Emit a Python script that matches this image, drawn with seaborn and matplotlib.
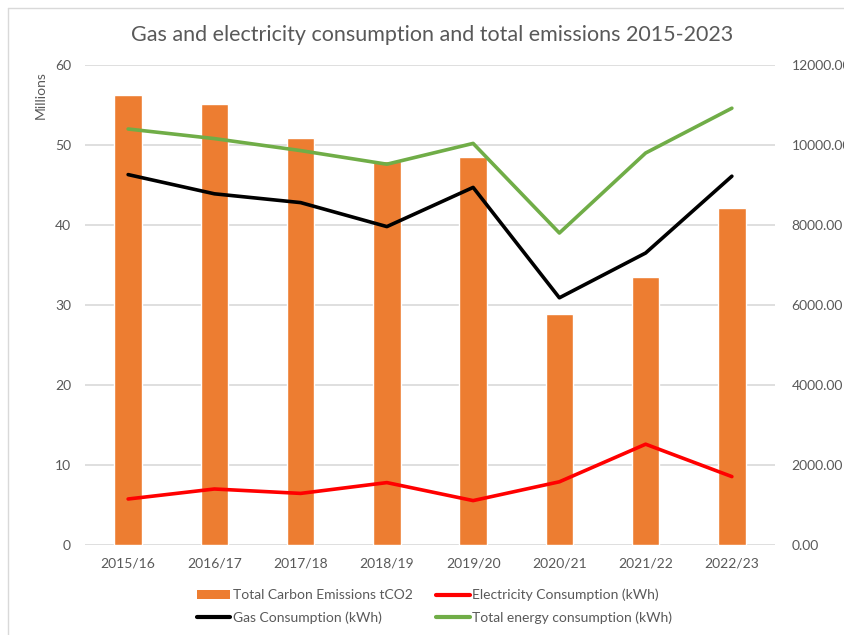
import matplotlib
matplotlib.use("Agg")
import matplotlib.pyplot as plt
from matplotlib.lines import Line2D
from matplotlib.patches import Patch
from matplotlib.ticker import MultipleLocator, StrMethodFormatter
import pandas as pd
import seaborn as sns

# Financial years
years = ["2015/16", "2016/17", "2017/18", "2018/19", "2019/20", "2020/21", "2021/22", "2022/23"]

# Total carbon emissions (tCO2) - right axis
carbon_tco2 = [11260, 11020, 10180, 9600, 9700, 5780, 6700, 8420]

# Consumption in millions of kWh - left axis
electricity_kwh_m = [5.75, 7.0, 6.45, 7.8, 5.55, 7.9, 12.6, 8.55]
gas_kwh_m = [46.3, 43.9, 42.8, 39.8, 44.7, 30.9, 36.5, 46.1]
total_kwh_m = [52.0, 50.8, 49.3, 47.6, 50.2, 39.0, 49.0, 54.6]

ORANGE = "#ED7D31"
RED = "#FF0000"
BLACK = "#000000"
GREEN = "#70AD47"
GRID = "#D9D9D9"
TEXT = "#595959"

sns.set_theme(style="white")
plt.rcParams["font.family"] = ["Lato", "DejaVu Sans"]

fig = plt.figure(figsize=(8.44, 6.35), dpi=100)
fig.patch.set_facecolor("white")

# Bars live on the base axes (scale shown on the right),
# lines on a twin axes (scale shown on the left) so they draw on top.
ax = fig.add_axes([85 / 844, 90 / 635, 690 / 844, 480 / 635])
ax2 = ax.twinx()

bars = pd.DataFrame({"year": years, "tco2": carbon_tco2})
sns.barplot(data=bars, x="year", y="tco2", color=ORANGE, width=0.32,
            saturation=1, ax=ax, zorder=2)

lines = pd.DataFrame({
    "year": years,
    "Electricity Consumption (kWh)": electricity_kwh_m,
    "Gas Consumption (kWh)": gas_kwh_m,
    "Total energy consumption (kWh)": total_kwh_m,
})
series_colors = {
    "Electricity Consumption (kWh)": RED,
    "Gas Consumption (kWh)": BLACK,
    "Total energy consumption (kWh)": GREEN,
}
for name, col in series_colors.items():
    sns.pointplot(data=lines, x="year", y=name, color=col, markers="",
                  linewidth=2.6, errorbar=None, ax=ax2)

# Scales
ax.set_ylim(0, 12000)
ax2.set_ylim(0, 60)
ax.set_xlim(-0.5, len(years) - 0.5)
ax2.set_xlim(-0.5, len(years) - 0.5)

ax.yaxis.tick_right()
ax.yaxis.set_label_position("right")
ax2.yaxis.tick_left()
ax2.yaxis.set_label_position("left")

ax.yaxis.set_major_locator(MultipleLocator(2000))
ax.yaxis.set_major_formatter(StrMethodFormatter("{x:.2f}"))
ax2.yaxis.set_major_locator(MultipleLocator(10))

ax.grid(axis="y", color=GRID, linewidth=1.2, zorder=0)
ax.set_axisbelow(True)
ax2.grid(False)

for a in (ax, ax2):
    for s in a.spines.values():
        s.set_visible(False)
    a.set_xlabel("")
    a.set_ylabel("")
    a.tick_params(length=0, colors=TEXT, labelsize=10)

ax.tick_params(axis="y", pad=12)
ax2.tick_params(axis="y", pad=10)
ax.tick_params(axis="x", pad=9)
ax2.tick_params(axis="x", labelbottom=False)

# Title and unit label
fig.text(432 / 844, 1 - 35 / 635,
         "Gas and electricity consumption and total emissions 2015-2023",
         ha="center", va="center", fontsize=15.5, color=TEXT)
fig.text(41 / 844, 1 - 95 / 635, "Millions", rotation=90,
         ha="center", va="center", fontsize=10, color=TEXT)

# Chart frame edges
fig.add_artist(Line2D([8 / 844, 8 / 844], [0, 1 - 8 / 635],
                      transform=fig.transFigure, color=GRID, lw=1))
fig.add_artist(Line2D([8 / 844, 1], [1 - 8 / 635, 1 - 8 / 635],
                      transform=fig.transFigure, color=GRID, lw=1))

# Legend
handles = [
    Patch(facecolor=ORANGE, edgecolor="none", label="Total Carbon Emissions tCO2"),
    Line2D([], [], color=BLACK, lw=3, label="Gas Consumption (kWh)"),
    Line2D([], [], color=RED, lw=3, label="Electricity Consumption (kWh)"),
    Line2D([], [], color=GREEN, lw=3, label="Total energy consumption (kWh)"),
]
leg = fig.legend(handles=handles, ncol=2, frameon=False, fontsize=10,
                 loc="upper left", bbox_to_anchor=(187 / 844, 1 - 579 / 635),
                 handlelength=2.4, handleheight=0.6, handletextpad=0.2,
                 columnspacing=1.7, labelspacing=0.7, borderpad=0.2)
for t in leg.get_texts():
    t.set_color(TEXT)

fig.savefig("out.png", dpi=100, facecolor="white")
